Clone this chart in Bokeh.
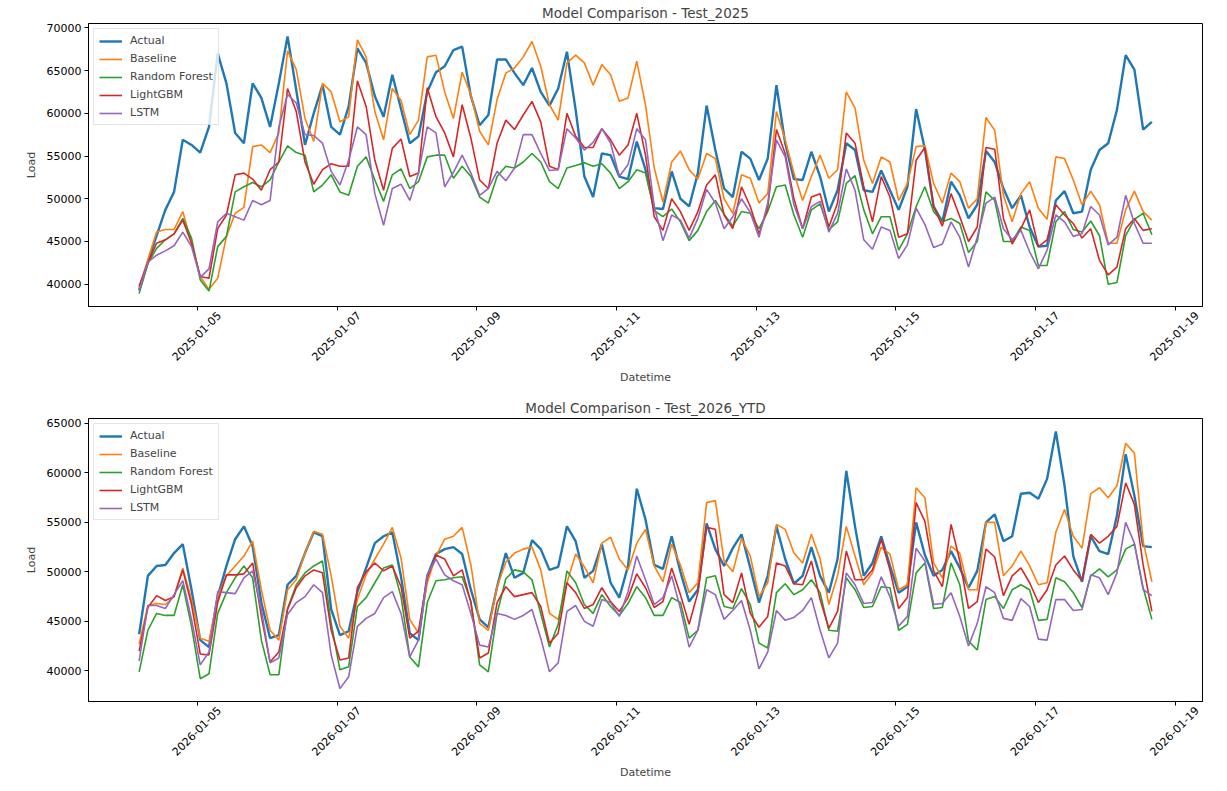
import pandas as pd
from math import pi

from bokeh.plotting import figure
from bokeh.layouts import column
from bokeh.models import (FixedTicker, DatetimeTickFormatter, BasicTickFormatter,
                          Legend, LegendItem, Range1d)
from bokeh.embed import file_html
from bokeh.resources import INLINE

# ---------------------------------------------------------------------------
# Load series, sampled every 3 hours
# ---------------------------------------------------------------------------
START_2025 = "2025-01-04 04:00"
START_2026 = "2026-01-04 04:00"
STEP = "3h"

actual_2025 = [
    39300, 42600, 45700, 48700, 50800, 56900, 56300, 55400,
    58400, 67000, 63500, 57700, 56500, 63500, 61800, 58400,
    63500, 69000, 62700, 56300, 60000, 63300, 58400, 57500,
    60800, 67600, 65900, 62000, 59600, 64500, 60500, 56500,
    57300, 62500, 64800, 65500, 67400, 67800, 62000, 58600,
    59800, 66300, 66300, 64700, 63300, 65300, 62500, 60900,
    62900, 67200, 60400, 52600, 50200, 55300, 55100, 52600,
    52300, 56700, 53400, 48900, 48800, 53200, 50000, 49100,
    53000, 60900, 55700, 51200, 50200, 55500, 54700, 52200,
    54700, 63300, 56500, 52300, 52200, 55500, 52600, 48500,
    51000, 56500, 55700, 51000, 50800, 53300, 51000, 48700,
    51400, 60500, 55800, 49100, 47300, 52000, 50400, 47700,
    49300, 55600, 54300, 51200, 48900, 50400, 46700, 44400,
    44500, 49800, 50900, 48300, 48500, 53400, 55700, 56500,
    60400, 66800, 65100, 58100, 59000,
]
baseline_2025 = [
    39600, 42900, 46100, 46400, 46400, 48500, 44800, 40900,
    39400, 40700, 45600, 48300, 49000, 56100, 56300, 55400,
    57700, 67300, 65100, 59400, 56700, 63500, 62500, 59000,
    59600, 68600, 66600, 60200, 56900, 62900, 61500, 57500,
    59200, 66600, 66800, 62500, 59400, 64800, 62200, 57900,
    56300, 61600, 64700, 65300, 66600, 68400, 65500, 61000,
    59200, 65900, 66800, 65900, 63300, 65700, 64500, 61400,
    61800, 66100, 61000, 53600, 49600, 54300, 55600, 53400,
    52300, 55300, 54700, 50000, 48300, 52800, 52400, 49500,
    50600, 60200, 56900, 53000, 49800, 52600, 55100, 52400,
    53400, 62500, 60600, 54500, 51800, 54900, 54300, 49800,
    51800, 56100, 56200, 51800, 49500, 53000, 52000, 48900,
    50000, 59500, 58000, 50400, 47300, 50600, 52000, 48900,
    47600, 54900, 54700, 52200, 49300, 50900, 49300, 44800,
    44800, 48700, 50900, 48500, 47500,
]
rf_2025 = [
    38900, 42400, 44200, 45200, 45900, 47700, 45400, 40500,
    39200, 44400, 45600, 50800, 51400, 51900, 51400, 52200,
    54300, 56200, 55400, 55100, 50800, 51600, 52800, 50800,
    50400, 53800, 54900, 52200, 49700, 52800, 53500, 51200,
    52000, 54900, 55100, 55100, 52400, 53800, 52600, 50200,
    49500, 52600, 53800, 53600, 54300, 55300, 54300, 52000,
    51200, 53600, 53900, 54200, 53800, 54100, 53000, 51200,
    52000, 53400, 53000, 48600, 47900, 48800, 47300, 45100,
    46300, 48500, 49800, 48200, 46800, 48500, 48300, 46500,
    48500, 51400, 51600, 48100, 45500, 48700, 49400, 46400,
    47300, 51800, 52700, 48700, 45900, 47900, 47900, 44000,
    45900, 49100, 51400, 48500, 47300, 47700, 47100, 43700,
    45000, 50800, 49800, 45000, 45000, 46700, 46300, 42200,
    42200, 47300, 48500, 46400, 46100, 47400, 45700, 40000,
    40200, 45700, 47600, 48300, 45800,
]
lgbm_2025 = [
    39800, 42500, 44800, 45200, 45900, 47500, 44800, 40900,
    40700, 46500, 48100, 52800, 53000, 52300, 51000, 53400,
    54300, 62900, 60200, 54300, 51700, 53400, 54100, 53800,
    53800, 63800, 60800, 54500, 51000, 55900, 57000, 52600,
    53000, 63000, 59600, 57700, 54900, 61000, 57100, 52200,
    51200, 56500, 59200, 58100, 59800, 61400, 59000, 53800,
    53400, 60000, 57300, 56000, 56000, 58200, 56900, 55100,
    56300, 60000, 55100, 47900, 46300, 50000, 48500, 46300,
    48500, 51600, 52800, 48100, 46500, 51400, 49100, 45900,
    48900, 58100, 55300, 50000, 46500, 50200, 50600, 46700,
    49500, 57700, 56500, 51400, 47300, 52600, 50200, 45500,
    45900, 54500, 56000, 49100, 46800, 50600, 47900, 45000,
    46700, 56000, 55800, 47700, 44700, 46500, 48700, 44400,
    45200, 49300, 48100, 47100, 45400, 46500, 42800, 41100,
    42000, 46500, 47700, 46300, 46500,
]
lstm_2025 = [
    39200, 42600, 43400, 43900, 44500, 46100, 44400, 40800,
    41800, 47300, 48300, 47900, 47500, 49800, 49300, 49800,
    58400, 62200, 61200, 57500, 57400, 56500, 53200, 51600,
    54500, 58400, 57500, 50600, 46900, 51200, 51700, 49800,
    53000, 58400, 57700, 51400, 53100, 55100, 53000, 50400,
    51200, 53200, 52100, 53600, 57500, 57500, 55300, 53300,
    53400, 58200, 57100, 55700, 56600, 58200, 56500, 52600,
    54000, 58200, 56900, 49100, 45100, 48100, 47500, 45400,
    47700, 51100, 49500, 46500, 47900, 50000, 48400, 45500,
    49500, 56900, 54900, 49300, 46500, 49100, 49700, 46100,
    48300, 53500, 51000, 45200, 44100, 46700, 46300, 43000,
    44600, 48900, 47000, 44300, 44700, 47300, 45500, 42000,
    45500, 49500, 50200, 46500, 45200, 46300, 43800, 41800,
    44000, 48100, 47300, 45600, 45900, 49100, 48100, 44600,
    45500, 50400, 47100, 44800, 44800,
]

actual_2026 = [
    43700, 49600, 50600, 50700, 51900, 52800, 48200, 43100,
    42400, 47500, 50600, 53300, 54600, 52600, 46900, 43300,
    43600, 48700, 49600, 51900, 54000, 53600, 46200, 43600,
    44000, 48000, 50400, 52900, 53600, 54000, 49500, 43800,
    43100, 49600, 51800, 52300, 52500, 51800, 48200, 45200,
    44400, 48500, 51900, 49400, 49900, 53200, 52300, 50200,
    50500, 54600, 53100, 49400, 50100, 52800, 48900, 47400,
    50600, 58400, 55300, 50700, 50300, 53600, 50000, 47000,
    48200, 54900, 52300, 50600, 52400, 53800, 50400, 46900,
    49600, 54600, 51300, 48800, 49600, 52500, 49600, 47900,
    51300, 60200, 54600, 49600, 50900, 53600, 50600, 47900,
    48500, 55000, 51700, 49600, 50200, 52100, 50400, 48400,
    50100, 55000, 55800, 53100, 53600, 57900, 58000, 57400,
    59400, 64200, 58700, 51600, 49000, 53600, 52100, 51800,
    55700, 61900, 57700, 52600, 52500,
]
baseline_2026 = [
    42700, 46600, 46800, 46700, 47500, 50400, 47200, 43300,
    43000, 47500, 49600, 50600, 51600, 53100, 48200, 44100,
    43100, 48200, 49200, 51900, 54100, 53800, 49600, 44500,
    43300, 47200, 49700, 51300, 52800, 54500, 51400, 45200,
    43800, 48900, 51600, 53300, 53600, 54500, 50700, 44800,
    44100, 48500, 51000, 51900, 52300, 52500, 50200, 45800,
    45200, 48900, 51800, 50500, 48900, 52900, 53500, 51300,
    50200, 52900, 54300, 50600, 49000, 52800, 50700, 47900,
    48900, 57000, 57200, 51100, 50000, 53400, 51600, 47500,
    48900, 54800, 54300, 51900, 50900, 53800, 51300, 46700,
    49600, 54600, 51600, 48700, 49900, 52500, 51800, 48200,
    48700, 58500, 57500, 50900, 49400, 52600, 51900, 48200,
    48200, 55000, 55000, 49600, 50600, 52100, 50600, 48700,
    48900, 54000, 56300, 53600, 52400, 57900, 58500, 57500,
    58700, 63000, 62000, 53100, 49000,
]
rf_2026 = [
    39900, 44100, 45800, 45600, 45600, 48700, 44500, 39200,
    39700, 45800, 47900, 49400, 50600, 49400, 43100, 39600,
    39600, 46300, 48700, 49900, 50600, 51100, 44800, 40100,
    40400, 46500, 47400, 48900, 50400, 50700, 47500, 41400,
    40400, 46900, 49100, 49200, 49400, 49500, 47000, 40600,
    39900, 45800, 49300, 50200, 50000, 49200, 45800, 42400,
    44700, 50100, 48900, 46700, 45800, 47700, 46500, 45600,
    46800, 48500, 47400, 45600, 45600, 47400, 46900, 43300,
    44100, 49400, 49600, 46500, 46300, 48300, 46700, 42800,
    42300, 47900, 48800, 47700, 48200, 49200, 47900, 44100,
    44000, 49400, 48200, 46400, 46500, 48500, 48400, 44100,
    44700, 49900, 50900, 46300, 46400, 50900, 48700, 43000,
    42100, 47200, 47500, 46300, 48200, 48700, 48200, 45100,
    45200, 49400, 49000, 47900, 46400, 49600, 50300, 49500,
    50200, 52300, 52800, 48400, 45200,
]
lgbm_2026 = [
    42000, 46400, 47600, 47100, 47500, 50200, 46700, 41700,
    41600, 46900, 49700, 49700, 49800, 50900, 45500, 40900,
    41900, 46200, 48400, 49600, 50200, 49900, 44100, 41100,
    41300, 48400, 50000, 50900, 50100, 50600, 48500, 43300,
    44000, 49400, 51700, 51300, 49600, 50200, 46900, 41300,
    41800, 46900, 48500, 47500, 47700, 47900, 46500, 42800,
    43800, 48900, 47900, 46300, 46700, 48400, 47000, 46000,
    47400, 49800, 48400, 46400, 47000, 50400, 47700, 44700,
    47900, 54500, 54300, 47700, 46900, 49900, 45800, 44400,
    45500, 50900, 50600, 48800, 48700, 51100, 47200, 44300,
    46000, 52100, 49200, 49200, 50200, 53300, 50200, 46300,
    47400, 57000, 55100, 50100, 48500, 54800, 51100, 46300,
    47000, 52300, 51500, 47600, 49600, 50400, 48900, 46900,
    48200, 50700, 51600, 50200, 49100, 53800, 52900, 53600,
    54600, 59000, 56800, 50700, 46000,
]
lstm_2026 = [
    41000, 46600, 46600, 46300, 47700, 49100, 45200, 40600,
    41900, 48000, 47900, 47800, 49400, 50100, 46200, 40800,
    41300, 45700, 46900, 47500, 48700, 47900, 41600, 38200,
    39400, 44500, 45300, 45800, 47400, 48000, 45800, 41400,
    43100, 49700, 51300, 49700, 49100, 48700, 45800, 42600,
    42400, 45800, 45600, 45200, 45600, 46200, 43300, 39900,
    40800, 46000, 46600, 45000, 44500, 47200, 46900, 45500,
    48000, 51600, 49200, 46700, 47400, 49600, 46300, 42400,
    44100, 48200, 47700, 45200, 46100, 47100, 44100, 40200,
    41900, 46100, 45100, 45400, 46100, 47400, 44100, 41300,
    42800, 49900, 48700, 46800, 46900, 49500, 47500, 44500,
    45500, 52400, 51100, 46700, 46800, 47900, 45500, 42500,
    44800, 48500, 47900, 45300, 45100, 47300, 46500, 43200,
    43100, 47200, 47200, 46100, 46200, 49700, 49400, 47700,
    49900, 55000, 52900, 48200, 47600,
]

MODELS = ["Actual", "Baseline", "Random Forest", "LightGBM", "LSTM"]
COLORS = ["#1f77b4", "#ff7f0e", "#2ca02c", "#d62728", "#9467bd"]
WIDTHS = [2.4, 1.6, 1.6, 1.6, 1.6]

TICK_DAYS_2025 = ["2025-01-05", "2025-01-07", "2025-01-09", "2025-01-11",
                  "2025-01-13", "2025-01-15", "2025-01-17", "2025-01-19"]
TICK_DAYS_2026 = ["2026-01-05", "2026-01-07", "2026-01-09", "2026-01-11",
                  "2026-01-13", "2026-01-15", "2026-01-17", "2026-01-19"]
Y_TICKS = [40000, 45000, 50000, 55000, 60000, 65000, 70000]

FONT = "DejaVu Sans"
DATE_FMT = "%Y-%m-%d"
# Rotated date labels are centred on their tick: the labelled (major) ticks
# sit slightly to the right and are not drawn; the visible tick marks are the
# minor ticks placed exactly on each date.
LABEL_NUDGE = pd.Timedelta(hours=7.5)


def style_axis(ax):
    ax.axis_label_text_font = FONT
    ax.axis_label_text_font_size = "11px"
    ax.axis_label_text_font_style = "normal"
    ax.major_label_text_font = FONT
    ax.major_label_text_font_size = "11px"
    ax.major_label_text_color = "black"
    ax.axis_line_color = "black"
    ax.major_tick_line_color = "black"
    ax.major_tick_out = 4
    ax.major_tick_in = 0
    ax.minor_tick_line_color = None


def panel(title, start, series, tick_days, top_border, bottom_border):
    times = pd.date_range(start, periods=len(series[0]), freq=STEP)
    span = times[-1] - times[0]
    x_range = Range1d(start=(times[0] - span * 0.05).to_pydatetime(),
                      end=(times[-1] + span * 0.05).to_pydatetime())
    lo = min(min(s) for s in series)
    hi = max(max(s) for s in series)
    pad = (hi - lo) * 0.05
    y_range = Range1d(start=lo - pad, end=hi + pad)

    p = figure(x_axis_type="datetime", x_range=x_range, y_range=y_range,
               frame_width=1114, frame_height=283,
               min_border_left=88, min_border_right=25,
               min_border_top=top_border, min_border_bottom=bottom_border,
               output_backend="svg", toolbar_location=None,
               background_fill_color="white", border_fill_color="white")

    items = []
    for name, color, lw, values in zip(MODELS, COLORS, WIDTHS, series):
        r = p.line(times, values, line_color=color, line_width=lw)
        items.append(LegendItem(label=name, renderers=[r]))

    legend = Legend(items=items, location="top_left", margin=5, padding=5,
                    spacing=5, glyph_width=23, glyph_height=12, label_height=12,
                    label_standoff=8, label_text_font=FONT,
                    label_text_font_size="11px", border_line_color="#cccccc",
                    border_line_width=1, background_fill_alpha=0.8)
    p.add_layout(legend)

    p.title.text = title
    p.title.align = "center"
    p.title.text_font = FONT
    p.title.text_font_size = "13.5px"
    p.title.text_font_style = "normal"
    p.title.standoff = 5

    tick_stamps = [pd.Timestamp(d) for d in tick_days]

    xax = p.below[0]
    style_axis(xax)
    xax.ticker = FixedTicker(
        ticks=[(t + LABEL_NUDGE).value / 1e6 for t in tick_stamps],
        minor_ticks=[t.value / 1e6 for t in tick_stamps])
    xax.formatter = DatetimeTickFormatter(hours=DATE_FMT, days=DATE_FMT,
                                          months=DATE_FMT, years=DATE_FMT)
    xax.major_label_orientation = pi / 4
    xax.major_tick_line_color = None
    xax.minor_tick_line_color = "black"
    xax.minor_tick_line_width = 1
    xax.minor_tick_out = 4
    xax.minor_tick_in = 0
    xax.major_label_standoff = 3
    xax.axis_label = "Datetime"
    xax.axis_label_standoff = 4

    yax = p.left[0]
    style_axis(yax)
    yax.ticker = FixedTicker(ticks=Y_TICKS)
    yax.formatter = BasicTickFormatter(use_scientific=False)
    yax.axis_label = "Load"
    yax.axis_label_standoff = 6
    yax.major_label_standoff = 3

    p.grid.visible = False
    p.outline_line_color = "black"
    p.outline_line_alpha = 1
    p.outline_line_width = 1
    return p


top = panel("Model Comparison - Test_2025", START_2025,
            [actual_2025, baseline_2025, rf_2025, lgbm_2025, lstm_2025],
            TICK_DAYS_2025, 23, 89)
bottom = panel("Model Comparison - Test_2026_YTD", START_2026,
               [actual_2026, baseline_2026, rf_2026, lgbm_2026, lstm_2026],
               TICK_DAYS_2026, 22, 91)

layout = column(top, bottom, spacing=0)
open("out.html", "w").write(file_html(layout, INLINE, title="Model Comparison"))
